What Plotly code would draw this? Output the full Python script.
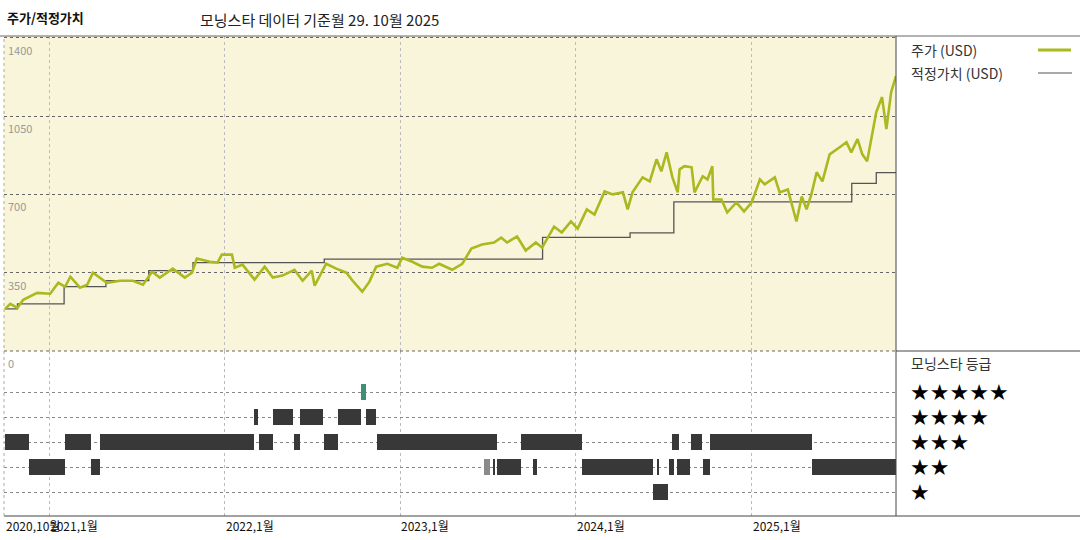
import plotly.graph_objects as go
import pandas as pd

# ---------------- data ----------------
price_dates = ["2020-10-01","2020-10-12","2020-10-27","2020-11-08","2020-12-07","2021-01-03","2021-01-20","2021-02-03",
"2021-02-14","2021-03-06","2021-03-21","2021-04-02","2021-05-01","2021-05-28","2021-06-24","2021-07-15","2021-08-03",
"2021-08-19","2021-09-15","2021-10-10","2021-10-25","2021-11-04","2021-12-01","2021-12-17","2021-12-26","2022-01-16",
"2022-01-22","2022-02-07","2022-03-04","2022-03-25","2022-04-11","2022-05-01","2022-05-26","2022-06-12","2022-07-01",
"2022-07-07","2022-07-31","2022-08-21","2022-09-11","2022-09-24","2022-10-14","2022-10-29","2022-11-12","2022-12-05",
"2022-12-26","2023-01-05","2023-01-26","2023-02-16","2023-03-08","2023-03-23","2023-04-19","2023-05-10","2023-05-29",
"2023-06-20","2023-07-15","2023-07-30","2023-08-11","2023-09-01","2023-09-19","2023-10-10","2023-10-23","2023-11-17",
"2023-12-03","2023-12-22","2024-01-05","2024-01-24","2024-02-09","2024-03-01","2024-03-18","2024-04-08","2024-04-18",
"2024-04-28","2024-05-19","2024-06-03","2024-06-17","2024-06-27","2024-07-08","2024-07-20","2024-07-31","2024-08-04",
"2024-08-14","2024-08-29","2024-09-04","2024-09-21","2024-10-01","2024-10-11","2024-10-13","2024-10-30","2024-11-11",
"2024-11-30","2024-12-16","2025-01-01","2025-01-18","2025-01-28","2025-02-18","2025-02-28","2025-03-17","2025-04-04",
"2025-04-15","2025-04-25","2025-05-05","2025-05-16","2025-05-28","2025-06-12","2025-07-03","2025-07-17","2025-07-27",
"2025-08-09","2025-08-19","2025-08-29","2025-09-17","2025-09-29","2025-10-08","2025-10-18","2025-10-28"]
price_values = [187,211,193,229,260,256,305,287,332,283,296,350,305,314,314,296,354,328,368,328,350,413,399,395,431,431,
372,386,319,377,328,337,363,314,359,292,390,368,350,314,265,310,377,390,372,417,399,377,372,390,363,390,458,476,485,507,
485,512,449,485,462,556,530,579,547,633,610,713,700,709,633,709,776,758,857,803,888,776,709,812,826,821,709,781,767,826,
677,677,619,664,624,664,767,745,776,709,722,579,691,633,700,799,758,879,911,933,888,947,879,848,1068,1135,992,1158,1229]

fair_dates = ["2020-10-01","2020-10-27","2021-02-01","2021-04-29","2021-07-27","2021-10-27","2022-07-27","2023-10-24",
              "2024-04-23","2024-07-23","2025-07-28","2025-09-17","2025-10-28"]
fair_values = [188,211,288,315,359,395,411,508,528,667,749,797,797]

rating_start = ["2020-10-01","2021-02-03","2021-04-17","2022-03-14","2022-05-25","2022-07-26","2022-11-13","2023-09-10",
                "2024-07-19","2024-08-28","2024-10-06",
                "2020-11-20","2021-03-29","2023-06-25","2023-07-12","2023-07-22","2023-10-05","2024-01-15","2024-06-18",
                "2024-07-13","2024-07-30","2024-09-22","2025-05-06",
                "2024-06-10",
                "2022-03-03","2022-04-12","2022-06-07","2022-08-24","2022-10-22",
                "2022-10-11"]
rating_end = ["2020-11-20","2021-03-29","2022-03-03","2022-04-12","2022-06-07","2022-08-24","2023-07-22","2024-01-15",
              "2024-08-03","2024-09-19","2025-05-06",
              "2021-02-03","2021-04-17","2023-07-06","2023-07-18","2023-09-10","2023-10-12","2024-06-10","2024-06-22",
              "2024-07-23","2024-08-26","2024-10-06","2025-10-28",
              "2024-07-11",
              "2022-03-12","2022-05-23","2022-07-24","2022-10-11","2022-11-11",
              "2022-10-22"]
rating_value = [3,3,3,3,3,3,3,3,3,3,3, 2,2,2,2,2,2,2,2,2,2,2,2, 1, 4,4,4,4,4, 5]

year_ticks = ["2020-10-01","2021-01-01","2022-01-01","2023-01-01","2024-01-01","2025-01-01"]
year_labels = ["2020,10월","2021,1월","2022,1월","2023,1월","2024,1월","2025,1월"]
price_ticks = [350,700,1050,1400]

# ---------------- figure ----------------
W, H = 1080, 540
L, R, T, B = 4, 896, 36, 516
def px(x): return (x - L) / (R - L)
def py(y): return (B - y) / (B - T)
split = py(351)

FONT = "Noto Sans CJK KR"
GREEN = "#a9b91f"
fig = go.Figure()

fig.add_trace(go.Scatter(x=pd.to_datetime(fair_dates), y=fair_values, mode="lines", line=dict(color="#555555", width=1.3, shape="hv"),
                         xaxis="x", yaxis="y", hoverinfo="skip"))
fig.add_trace(go.Scatter(x=pd.to_datetime(price_dates), y=price_values, mode="lines", line=dict(color=GREEN, width=2.6),
                         xaxis="x", yaxis="y"))

s = pd.to_datetime(rating_start); e = pd.to_datetime(rating_end)
mid = s + (e - s) / 2
width_ms = [(b - a).total_seconds() * 1000 for a, b in zip(s, e)]
colors = ["#3f8f72" if v == 5 else ("#8a8a8a" if (a == pd.Timestamp("2023-06-25")) else "#383838") for v, a in zip(rating_value, s)]
fig.add_trace(go.Bar(x=mid, y=[0.64] * len(rating_value), base=[v - 0.32 for v in rating_value], width=width_ms,
                     marker=dict(color=colors, line=dict(width=0)), xaxis="x2", yaxis="y2"))

xr = ["2020-09-29", "2025-10-28"]
common_x = dict(range=xr, type="date", showticklabels=False, tickvals=year_ticks, showgrid=True,
                gridcolor="#bbbbbb", griddash="dot", gridwidth=1, zeroline=False, showline=False)
fig.update_layout(
    width=W, height=H, margin=dict(l=L, r=W - R, t=T, b=H - B),
    paper_bgcolor="white", plot_bgcolor="white", showlegend=False, bargap=0, barmode="overlay",
    font=dict(family=FONT, color="#222"),
    xaxis=dict(common_x, domain=[0, 1], anchor="y"),
    xaxis2=dict(common_x, domain=[0, 1], anchor="y2", matches="x"),
    yaxis=dict(domain=[split, 1], range=[0, 1408], tickvals=price_ticks, showticklabels=False, showgrid=True,
               gridcolor="#666666", griddash="dot", zeroline=False),
    yaxis2=dict(domain=[0, split], range=[0.04, 6.64], tickvals=[1, 2, 3, 4, 5], showticklabels=False, showgrid=True,
                gridcolor="#888888", griddash="dot", zeroline=False),
)

shapes = [
    dict(type="rect", xref="paper", yref="paper", x0=0, x1=1, y0=split, y1=1, fillcolor="#f8f5da", line=dict(width=0), layer="below"),
    dict(type="line", xref="paper", yref="paper", x0=px(0), x1=px(1080), y0=1, y1=1, line=dict(color="#666", width=1)),
    dict(type="line", xref="paper", yref="paper", x0=0, x1=px(1080), y0=0, y1=0, line=dict(color="#444", width=1)),
    dict(type="line", xref="paper", yref="paper", x0=1, x1=px(1080), y0=split, y1=split, line=dict(color="#444", width=1)),
    dict(type="line", xref="paper", yref="paper", x0=0, x1=1, y0=split, y1=split, line=dict(color="#666", width=1, dash="dot")),
    dict(type="line", xref="paper", yref="paper", x0=1, x1=1, y0=0, y1=1, line=dict(color="#444", width=1)),
    dict(type="line", xref="paper", yref="paper", x0=0, x1=0, y0=0, y1=1, line=dict(color="#aaa", width=1, dash="dot")),
    dict(type="line", xref="paper", yref="paper", x0=px(1038), x1=px(1071), y0=py(50), y1=py(50), line=dict(color=GREEN, width=3)),
    dict(type="line", xref="paper", yref="paper", x0=px(1038), x1=px(1072), y0=py(73), y1=py(73), line=dict(color="#555", width=1.2)),
]
fig.update_layout(shapes=shapes)

ann = []
ann.append(dict(text="<b>주가/적정가치</b>", xref="paper", yref="paper", x=px(5), y=py(17), xanchor="left", yanchor="middle",
                showarrow=False, font=dict(size=13, color="#111")))
ann.append(dict(text="모닝스타 데이터 기준월 29. 10월 2025", xref="paper", yref="paper", x=px(198), y=py(20), xanchor="left",
                yanchor="middle", showarrow=False, font=dict(size=15, color="#222")))
for v in price_ticks:
    ann.append(dict(text=str(v), xref="paper", yref="y", x=px(6), y=v, xanchor="left", yanchor="top", yshift=-2,
                    showarrow=False, font=dict(size=11, color="#999")))
ann.append(dict(text="0", xref="paper", yref="paper", x=px(6), y=split, xanchor="left", yanchor="top", yshift=-2,
                showarrow=False, font=dict(size=11, color="#999")))
for d, lab in zip(year_ticks, year_labels):
    ann.append(dict(text=lab, xref="x2", yref="paper", x=d, y=0, xanchor="left", yanchor="top", xshift=-1, yshift=1,
                    showarrow=False, font=dict(size=12, color="#111")))
ann.append(dict(text="주가 (USD)", xref="paper", yref="paper", x=px(909), y=py(50), xanchor="left", yanchor="middle",
                showarrow=False, font=dict(size=14, color="#333")))
ann.append(dict(text="적정가치 (USD)", xref="paper", yref="paper", x=px(909), y=py(73), xanchor="left", yanchor="middle",
                showarrow=False, font=dict(size=14, color="#333")))
ann.append(dict(text="모닝스타 등급", xref="paper", yref="paper", x=px(909), y=py(363), xanchor="left", yanchor="middle",
                showarrow=False, font=dict(size=14, color="#333")))
for n in [5, 4, 3, 2, 1]:
    ann.append(dict(text="★" * n, xref="paper", yref="y2", x=px(908), y=n, xanchor="left", yanchor="middle",
                    showarrow=False, font=dict(size=22, color="#000", family="DejaVu Sans")))
fig.update_layout(annotations=ann)

fig.write_html("out.html", config={"displayModeBar": False})
with open("out.html", encoding="utf-8") as f:
    html = f.read()
html = html.replace("<body>", '<body style="margin:0;overflow:hidden">', 1)
with open("out.html", "w", encoding="utf-8") as f:
    f.write(html)
